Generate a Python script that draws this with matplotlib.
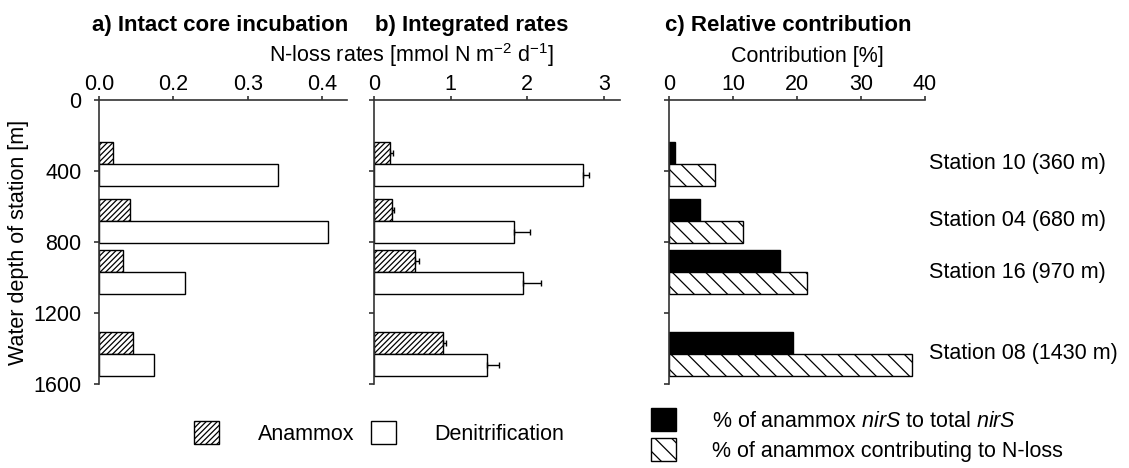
import numpy as np
import matplotlib
matplotlib.use("Agg")
import matplotlib.pyplot as plt
from matplotlib.patches import Patch

plt.rcParams['font.family'] = ['Liberation Sans', 'DejaVu Sans']
plt.rcParams['mathtext.fontset'] = 'custom'
plt.rcParams['mathtext.rm'] = 'Liberation Sans'
plt.rcParams['mathtext.it'] = 'Liberation Sans:italic'
plt.rcParams['hatch.linewidth'] = 0.9

# station data
stations = ['Station 10 (360 m)', 'Station 04 (680 m)', 'Station 16 (970 m)', 'Station 08 (1430 m)']
depth = np.array([360, 680, 970, 1430])

# a) intact core incubation (drawn on the figure's own tick scale)
core_anammox = [0.019, 0.041, 0.032, 0.046]
core_denit = [0.240, 0.308, 0.116, 0.074]
core_ticks = [0.0, 0.1, 0.2, 0.3]
core_ticklabels = ['0.0', '0.2', '0.3', '0.4']

# b) integrated rates
int_anammox = [0.21, 0.24, 0.54, 0.90]
int_anammox_err = [0.035, 0.02, 0.05, 0.04]
int_denit = [2.73, 1.83, 1.94, 1.47]
int_denit_err = [0.07, 0.20, 0.24, 0.165]

# c) relative contribution [%]
nirs_pct = [1.0, 4.9, 17.4, 19.3]
nloss_pct = [7.2, 11.6, 21.5, 38.0]

W, H = 1129, 468
fig = plt.figure(figsize=(W / 100, H / 100), dpi=100)

def px_axes(x0, x1, y0, y1):
    return fig.add_axes([x0 / W, 1 - y1 / H, (x1 - x0) / W, (y1 - y0) / H])

ax_a = px_axes(99, 347, 100, 384)
ax_b = px_axes(374, 620, 100, 384)
ax_c = px_axes(669, 925, 100, 384)

bh = 125  # bar height in m
fs = 15.5
spine_col = '#333333'
hatch_ab = '//////'
hatch_c = '\\\\'

for ax in (ax_a, ax_b, ax_c):
    ax.set_ylim(1600, 0)
    ax.set_yticks([0, 400, 800, 1200, 1600])
    ax.xaxis.tick_top()
    ax.spines['right'].set_visible(False)
    ax.spines['bottom'].set_visible(False)
    for s in ('left', 'top'):
        ax.spines[s].set_color(spine_col)
        ax.spines[s].set_linewidth(1.2)
    ax.tick_params(axis='x', direction='out', length=3, width=1.2, color=spine_col, labelsize=fs, pad=0.5)
    ax.tick_params(axis='y', direction='out', length=3.5, width=1.2, color=spine_col, labelsize=fs, pad=9)

# a
ax_a.barh(depth - bh / 2, core_anammox, height=bh, color='white', edgecolor='black',
          hatch=hatch_ab, linewidth=1.0)
ax_a.barh(depth + bh / 2, core_denit, height=bh, color='white', edgecolor='black', linewidth=1.0)
ax_a.set_xlim(0, 0.333)
ax_a.set_xticks(core_ticks)
ax_a.set_xticklabels(core_ticklabels)
ax_a.set_ylabel('Water depth of station [m]', fontsize=fs, labelpad=3)

# b
ax_b.barh(depth - bh / 2, int_anammox, height=bh, color='white', edgecolor='black',
          hatch=hatch_ab, linewidth=1.0)
ax_b.barh(depth + bh / 2, int_denit, height=bh, color='white', edgecolor='black', linewidth=1.0)
ax_b.errorbar(int_anammox, depth - bh / 2, xerr=[np.zeros(4), int_anammox_err], fmt='none',
              ecolor='black', elinewidth=1, capsize=2.5)
ax_b.errorbar(int_denit, depth + bh / 2, xerr=[np.zeros(4), int_denit_err], fmt='none',
              ecolor='black', elinewidth=1, capsize=2.5)
ax_b.set_xlim(0, 3.21)
ax_b.set_xticks([0, 1, 2, 3])
ax_b.set_yticklabels([])

# c
ax_c.barh(depth - bh / 2, nirs_pct, height=bh, color='black', edgecolor='black', linewidth=1.0)
ax_c.barh(depth + bh / 2, nloss_pct, height=bh, color='white', edgecolor='black',
          hatch=hatch_c, linewidth=1.0)
ax_c.set_xlim(0, 40)
ax_c.set_xticks([0, 10, 20, 30, 40])
ax_c.set_yticklabels([])
for d, s in zip(depth, stations):
    ax_c.text(40.6, d, s, fontsize=fs, va='center', ha='left', clip_on=False)

# titles and axis labels
fig.text(220 / W, 1 - 31 / H, 'a) Intact core incubation', fontsize=16, fontweight='bold',
         ha='center', va='baseline')
fig.text(472 / W, 1 - 31 / H, 'b) Integrated rates', fontsize=16, fontweight='bold',
         ha='center', va='baseline')
fig.text(788 / W, 1 - 31 / H, 'c) Relative contribution', fontsize=16, fontweight='bold',
         ha='center', va='baseline')
fig.text(411 / W, 1 - 62 / H, 'N-loss rates [mmol N m$^{-2}$ d$^{-1}$]', fontsize=fs,
         ha='center', va='baseline')
fig.text(807 / W, 1 - 62 / H, 'Contribution [%]', fontsize=fs, ha='center', va='baseline')

# legends
h1 = [Patch(facecolor='white', edgecolor='black', hatch=hatch_ab, label='Anammox'),
      Patch(facecolor='white', edgecolor='black', label='Denitrification')]
fig.legend(handles=h1, loc='upper left', bbox_to_anchor=(194 / W, 1 - 421 / H), ncol=2,
           frameon=False, fontsize=fs, handlelength=1.15, handleheight=1.25,
           handletextpad=1.8, columnspacing=0.8, borderpad=0, borderaxespad=0)
h2 = [Patch(facecolor='black', edgecolor='black', label='% of anammox $\\it{nirS}$ to total $\\it{nirS}$'),
      Patch(facecolor='white', edgecolor='black', hatch=hatch_c,
            label='% of anammox contributing to N-loss')]
fig.legend(handles=h2, loc='upper left', bbox_to_anchor=(651 / W, 1 - 408 / H), ncol=1,
           frameon=False, fontsize=fs, handlelength=1.15, handleheight=1.25,
           handletextpad=1.7, labelspacing=0.3, borderpad=0, borderaxespad=0)

fig.savefig('out.png', dpi=100)
